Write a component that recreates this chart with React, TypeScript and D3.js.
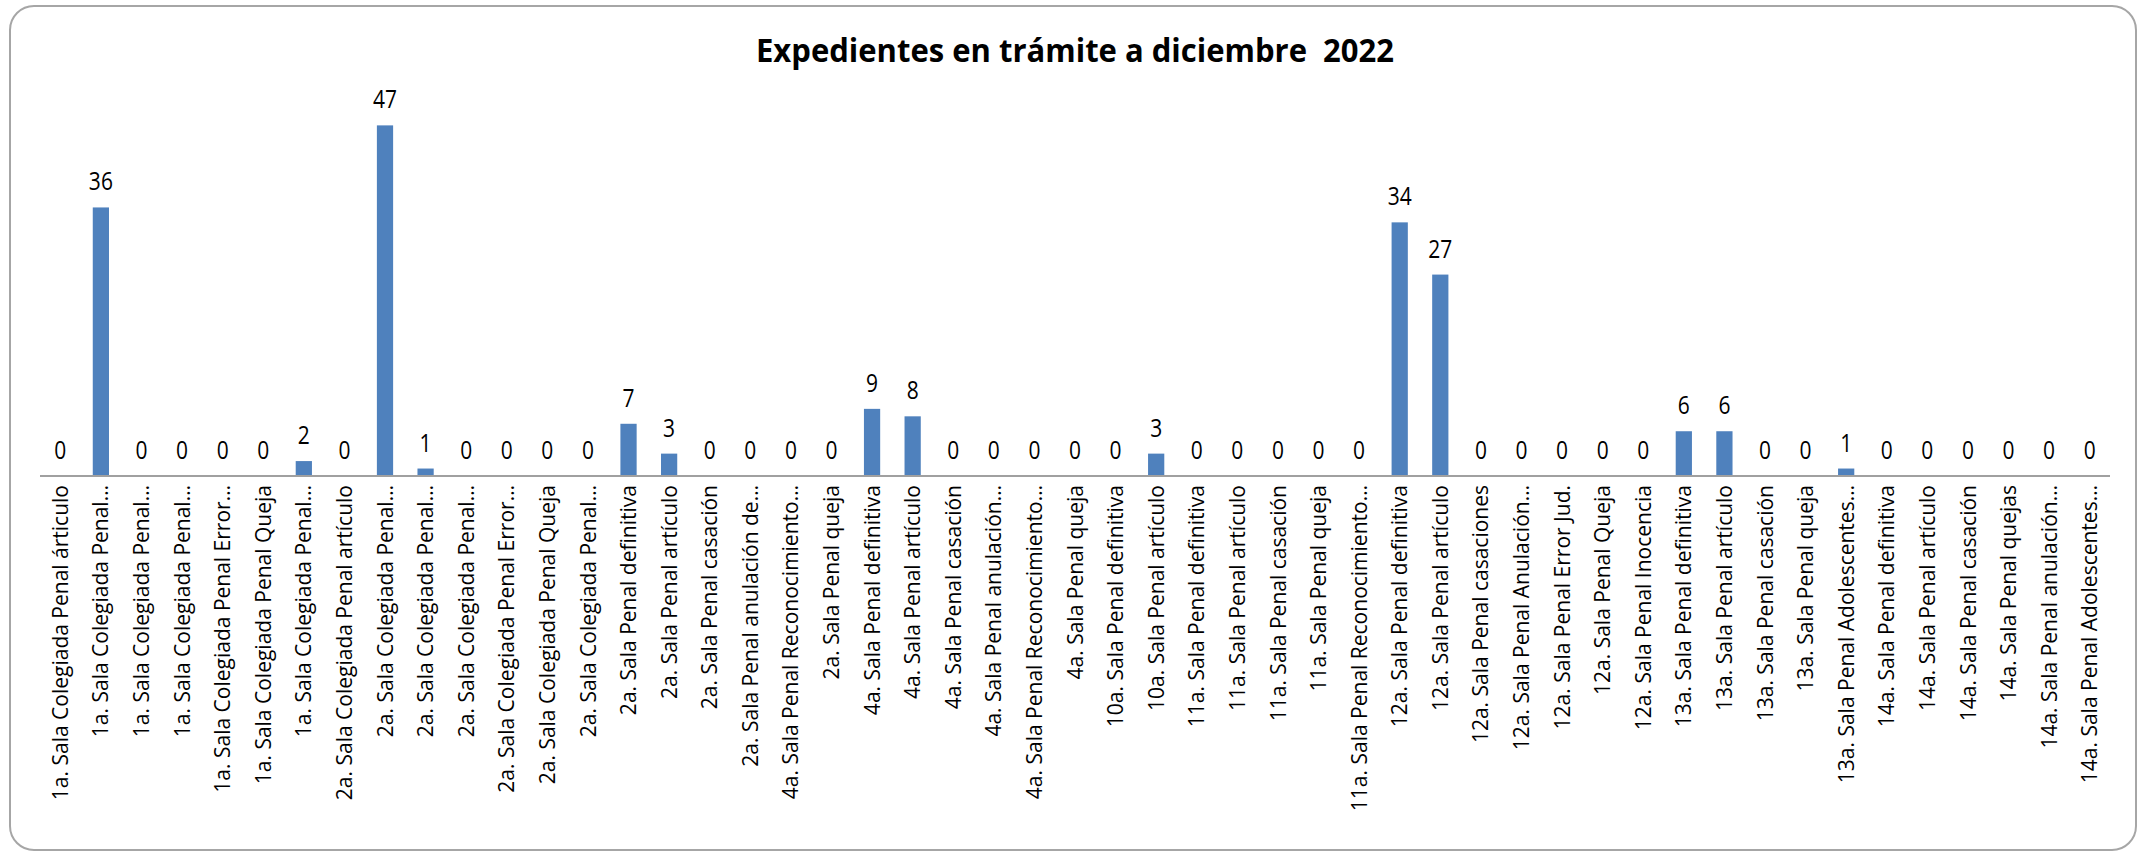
import { useMemo } from "react";
import * as d3 from "d3";

const WIDTH = 2144;
const HEIGHT = 857;
const MARGIN = { top: 103, right: 34, bottom: 381, left: 40 };
const BAR_PADDING = 0.6;
const BAR_COLOR = "#4f81bd";

const TITLE = "Expedientes en trámite a diciembre  2022";

const categories = [
  "1a. Sala Colegiada Penal árticulo",
  "1a. Sala Colegiada Penal…",
  "1a. Sala Colegiada Penal…",
  "1a. Sala Colegiada Penal…",
  "1a. Sala Colegiada Penal Error…",
  "1a. Sala Colegiada Penal Queja",
  "1a. Sala Colegiada Penal…",
  "2a. Sala Colegiada Penal artículo",
  "2a. Sala Colegiada Penal…",
  "2a. Sala Colegiada Penal…",
  "2a. Sala Colegiada Penal…",
  "2a. Sala Colegiada Penal Error…",
  "2a. Sala Colegiada Penal Queja",
  "2a. Sala Colegiada Penal…",
  "2a. Sala Penal definitiva",
  "2a. Sala Penal artículo",
  "2a. Sala Penal casación",
  "2a. Sala Penal anulación de…",
  "4a. Sala Penal Reconocimiento…",
  "2a. Sala Penal queja",
  "4a. Sala Penal definitiva",
  "4a. Sala Penal artículo",
  "4a. Sala Penal casación",
  "4a. Sala Penal anulación…",
  "4a. Sala Penal Reconocimiento…",
  "4a. Sala Penal queja",
  "10a. Sala Penal definitiva",
  "10a. Sala Penal artículo",
  "11a. Sala Penal definitiva",
  "11a. Sala Penal artículo",
  "11a. Sala Penal casación",
  "11a. Sala Penal queja",
  "11a. Sala Penal Reconocimiento…",
  "12a. Sala Penal definitiva",
  "12a. Sala Penal artículo",
  "12a. Sala Penal casaciones",
  "12a. Sala Penal Anulación…",
  "12a. Sala Penal Error Jud.",
  "12a. Sala Penal Queja",
  "12a. Sala Penal Inocencia",
  "13a. Sala Penal definitiva",
  "13a. Sala Penal artículo",
  "13a. Sala Penal casación",
  "13a. Sala Penal queja",
  "13a. Sala Penal Adolescentes…",
  "14a. Sala Penal definitiva",
  "14a. Sala Penal artículo",
  "14a. Sala Penal casación",
  "14a. Sala Penal quejas",
  "14a. Sala Penal anulación…",
  "14a. Sala Penal Adolescentes…",
];

const values = [
  0, 36, 0, 0, 0, 0, 2, 0, 47, 1, 0, 0, 0, 0, 7, 3, 0, 0, 0, 0, 9, 8, 0, 0, 0,
  0, 0, 3, 0, 0, 0, 0, 0, 34, 27, 0, 0, 0, 0, 0, 6, 6, 0, 0, 1, 0, 0, 0, 0, 0,
  0,
];

const Y_MAX = 50;

const Barplot = ({ width, height }: { width: number; height: number }) => {
  // bounds = area inside the axes
  const boundsWidth = width - MARGIN.left - MARGIN.right;
  const boundsHeight = height - MARGIN.top - MARGIN.bottom;

  const xScale = useMemo(() => {
    return d3
      .scaleBand<number>()
      .domain(categories.map((_, i) => i))
      .range([0, boundsWidth])
      .paddingInner(BAR_PADDING)
      .paddingOuter(BAR_PADDING / 2);
  }, [width]);

  const yScale = useMemo(() => {
    return d3.scaleLinear().domain([0, Y_MAX]).range([boundsHeight, 0]);
  }, [height]);

  const bars = values.map((v, i) => {
    const x = xScale(i) ?? 0;
    return (
      <rect
        key={i}
        x={x}
        y={yScale(v)}
        width={xScale.bandwidth()}
        height={boundsHeight - yScale(v)}
        fill={BAR_COLOR}
      />
    );
  });

  const labels = values.map((v, i) => {
    const cx = (xScale(i) ?? 0) + xScale.bandwidth() / 2;
    return (
      <text
        key={i}
        transform={`translate(${cx},${yScale(v) - 17}) scale(0.84,1)`}
        textAnchor="middle"
        fontSize={25}
        fontFamily="'Open Sans', sans-serif"
        fill="#000"
      >
        {v}
      </text>
    );
  });

  const ticks = categories.map((c, i) => {
    const cx = (xScale(i) ?? 0) + xScale.bandwidth() / 2;
    return (
      <text
        key={i}
        transform={`translate(${cx},${boundsHeight + 9}) rotate(-90)`}
        textAnchor="end"
        dy="0.36em"
        fontSize={21}
        fontFamily="'Open Sans', sans-serif"
        fill="#000"
      >
        {c}
      </text>
    );
  });

  return (
    <svg
      width={width}
      height={height}
      style={{ position: "absolute", left: 0, top: 0, display: "block" }}
    >
      <rect
        x={10}
        y={6}
        width={2126}
        height={844}
        rx={24}
        ry={24}
        fill="#fff"
        stroke="#a6a6a6"
        strokeWidth={2}
      />
      <text
        x={1075}
        y={62}
        textAnchor="middle"
        fontSize={33}
        fontWeight="bold"
        fontFamily="'Open Sans', sans-serif"
        textLength={638}
        lengthAdjust="spacingAndGlyphs"
        style={{ whiteSpace: "pre" }}
      >
        {TITLE}
      </text>
      <g transform={`translate(${MARGIN.left},${MARGIN.top})`}>
        <g>{bars}</g>
        <line
          x1={0}
          x2={boundsWidth}
          y1={boundsHeight}
          y2={boundsHeight}
          stroke="#a0a0a0"
          strokeWidth={2}
        />
        <g>{labels}</g>
        <g>{ticks}</g>
      </g>
    </svg>
  );
};

export default function App() {
  return <Barplot width={WIDTH} height={HEIGHT} />;
}
